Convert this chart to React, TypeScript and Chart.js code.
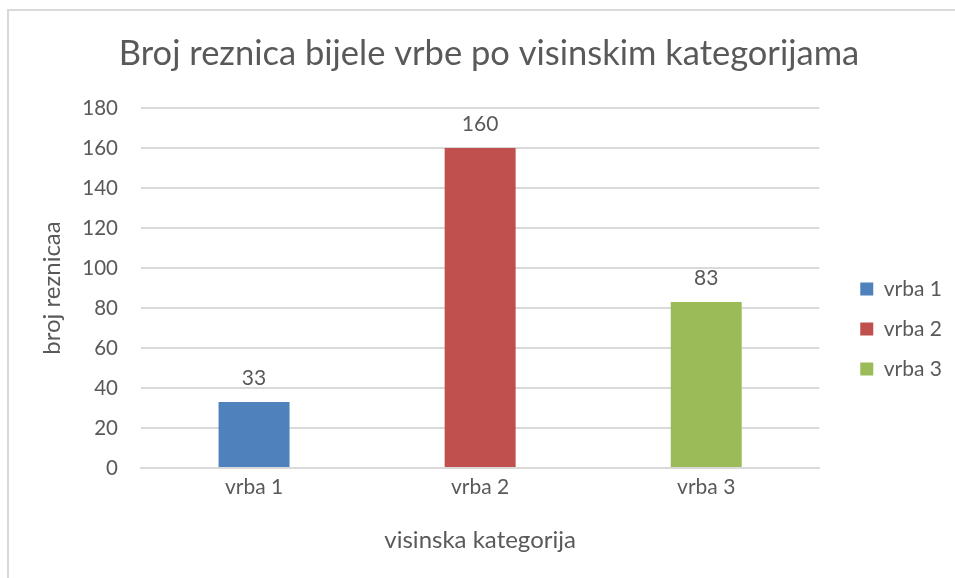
import React, { useEffect, useRef } from "react";
import { Chart, registerables } from "chart.js";

Chart.register(...registerables);

const chartTitle = "Broj reznica bijele vrbe po visinskim kategorijama";
const categories = ["vrba 1", "vrba 2", "vrba 3"];
const values = [33, 160, 83];
const barColors = ["#4F81BD", "#C0504D", "#9BBB59"];
const yAxisTitle = "broj reznicaa";
const xAxisTitle = "visinska kategorija";
const yMin = 0;
const yMax = 180;
const yStep = 20;

const FONT = "Lato, 'Liberation Sans', sans-serif";
const TEXT = "#595959";
const GRID = "#D9D9D9";

const framePlugin = {
  id: "frame",
  beforeDraw(chart: any) {
    const ctx = chart.ctx;
    ctx.save();
    ctx.fillStyle = "#FFFFFF";
    ctx.fillRect(0, 0, chart.width, chart.height);
    ctx.fillStyle = GRID;
    ctx.fillRect(7, 9, 2, chart.height - 9);
    ctx.fillRect(7, 9, chart.width - 7, 2);
    ctx.restore();
  },
};

const shiftPlugin = {
  id: "shiftBoxes",
  afterLayout(chart: any) {
    if (chart.legend) {
      chart.legend.left += 22;
      chart.legend.right += 22;
    }
    if (chart.titleBlock) {
      chart.titleBlock.left += 14;
      chart.titleBlock.right += 14;
    }
  },
};

const valueLabelPlugin = {
  id: "valueLabels",
  afterDatasetsDraw(chart: any) {
    const ctx = chart.ctx;
    const meta = chart.getDatasetMeta(0);
    ctx.save();
    ctx.font = `21px ${FONT}`;
    ctx.fillStyle = TEXT;
    ctx.textAlign = "center";
    ctx.textBaseline = "alphabetic";
    meta.data.forEach((bar: any, i: number) => {
      ctx.fillText(String(values[i]), bar.x, bar.y - 17);
    });
    ctx.restore();
  },
};

export default function App() {
  const ref = useRef<HTMLCanvasElement>(null);

  useEffect(() => {
    document.body.style.margin = "0";
    const canvas = ref.current;
    if (!canvas) return;
    const chart = new Chart(canvas, {
      type: "bar",
      data: {
        labels: categories,
        datasets: [
          {
            label: "broj reznica",
            data: values,
            backgroundColor: barColors,
            borderWidth: 0,
            categoryPercentage: 1,
            barPercentage: 0.314,
          },
        ],
      },
      plugins: [framePlugin, shiftPlugin, valueLabelPlugin],
      options: {
        responsive: false,
        animation: false,
        layout: { padding: { top: 0, left: 20, right: 25, bottom: 10 } },
        plugins: {
          title: {
            display: true,
            text: chartTitle,
            color: TEXT,
            font: { family: FONT, size: 34.5, weight: "normal", lineHeight: 1.2 },
            padding: { top: 33, bottom: 33.6 },
          },
          legend: {
            display: true,
            position: "right",
            align: "start",
            title: {
              display: true,
              text: " ",
              font: { size: 10, lineHeight: 1 },
              padding: { top: 249.5, bottom: 0 },
            },
            labels: {
              boxWidth: 13,
              boxHeight: 13,
              padding: 19,
              color: TEXT,
              font: { family: FONT, size: 21 },
              generateLabels: () =>
                categories.map((c, i) => ({
                  text: c,
                  fillStyle: barColors[i],
                  strokeStyle: barColors[i],
                  lineWidth: 0,
                  hidden: false,
                  index: i,
                  datasetIndex: 0,
                  fontColor: TEXT,
                })),
            },
          },
          tooltip: { enabled: false },
        },
        scales: {
          x: {
            grid: { display: false, drawTicks: false },
            border: { display: true, color: GRID, width: 2 },
            ticks: { color: TEXT, font: { family: FONT, size: 21 }, padding: 7 },
            title: {
              display: true,
              text: xAxisTitle,
              color: TEXT,
              font: { family: FONT, size: 24, lineHeight: 1.2 },
              padding: { top: 0, bottom: 13.6 },
            },
            afterFit(scale: any) {
              scale.height = 100;
            },
          },
          y: {
            min: yMin,
            max: yMax,
            ticks: {
              stepSize: yStep,
              color: TEXT,
              font: { family: FONT, size: 20.5 },
              padding: 23,
            },
            grid: { color: GRID, lineWidth: 2, drawTicks: false },
            border: { display: false },
            title: {
              display: true,
              text: yAxisTitle,
              color: TEXT,
              font: { family: FONT, size: 24, lineHeight: 1.2 },
              padding: { top: 17.6, bottom: 0 },
            },
            afterFit(scale: any) {
              scale.width = 121;
            },
          },
        },
      },
    });
    return () => chart.destroy();
  }, []);

  return (
    <div style={{ position: "fixed", left: 0, top: 0, width: 955, height: 578 }}>
      <canvas ref={ref} width={955} height={578} style={{ width: 955, height: 578 }} />
    </div>
  );
}
